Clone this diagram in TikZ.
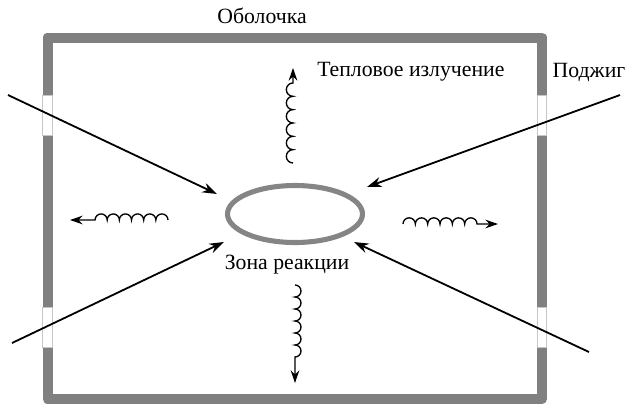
\documentclass[tikz,border=0pt]{standalone}
\usepackage{fontspec}
\setmainfont{Liberation Serif}
\usetikzlibrary{arrows.meta}
\definecolor{framegray}{HTML}{808080}
\definecolor{zonegray}{HTML}{858585}
\tikzset{
  shell/.style={draw=framegray, line width=7.5pt, line join=round},
  window/.style={draw=framegray!45, fill=white, line width=0.5pt, minimum width=7.2pt, minimum height=30pt, inner sep=0pt},
  zoneline/.style={draw=zonegray, line width=3.8pt},
  ray/.style={line width=1.35pt, -{Stealth[length=11pt,width=7.5pt]}},
  heat/.style={line width=1pt, -{Stealth[length=9.5pt,width=6.5pt]}},
  lbl/.style={font=\fontsize{16.3}{19}\selectfont, inner sep=0pt}
}
\begin{document}
\begin{tikzpicture}[x=0.75pt,y=-0.75pt]
\useasboundingbox (0,0) rectangle (636,405);
% shell
\draw[shell] (47.5,37.5) rectangle (542,399);
\node[window] (w1) at (47.5,115) {};
\node[window] (w2) at (47.5,327) {};
\node[window] (w3) at (542,115) {};
\node[window] (w4) at (542,327) {};
% reaction zone
\draw[zoneline] (295,214) ellipse [x radius=67.5, y radius=28.5];
\coordinate (zone) at (295,214);
% labels
\node[lbl] (shellL) at (262,16) {Оболочка};
\node[lbl, anchor=west] (heatL) at (317,72) {Тепловое излучение};
\node[lbl] (ign) at (589,72) {Поджиг};
\node[lbl] (zoneL) at (287,265) {Зона реакции};
% ignition rays
\coordinate (a1) at (8,95);   \coordinate (b1) at (217,194);
\coordinate (a2) at (12,343); \coordinate (b2) at (224,242);
\coordinate (a3) at (620,95); \coordinate (b3) at (367,187);
\coordinate (a4) at (589,352);\coordinate (b4) at (354,242);
\draw[ray] (a1) -- (b1);
\draw[ray] (a2) -- (b2);
\draw[ray] (a3) -- (b3);
\draw[ray] (a4) -- (b4);
% heat radiation (coils)
\coordinate (hl) at (168,220); \coordinate (hlt) at (70,220);
\draw[heat] (hl)
  arc[start angle=0,end angle=-180,radius=6.08]
  arc[start angle=0,end angle=-180,radius=6.08]
  arc[start angle=0,end angle=-180,radius=6.08]
  arc[start angle=0,end angle=-180,radius=6.08]
  arc[start angle=0,end angle=-180,radius=6.08]
  arc[start angle=0,end angle=-180,radius=6.08]
  -- (hlt);
\coordinate (hr) at (403,224); \coordinate (hrt) at (498,224);
\draw[heat] (hr)
  arc[start angle=180,end angle=360,radius=6.17]
  arc[start angle=180,end angle=360,radius=6.17]
  arc[start angle=180,end angle=360,radius=6.17]
  arc[start angle=180,end angle=360,radius=6.17]
  arc[start angle=180,end angle=360,radius=6.17]
  arc[start angle=180,end angle=360,radius=6.17]
  -- (hrt);
\coordinate (hu) at (293,163); \coordinate (hut) at (293,68);
\draw[heat] (hu)
  arc[start angle=90,end angle=270,radius=6.67]
  arc[start angle=90,end angle=270,radius=6.67]
  arc[start angle=90,end angle=270,radius=6.67]
  arc[start angle=90,end angle=270,radius=6.67]
  arc[start angle=90,end angle=270,radius=6.67]
  arc[start angle=90,end angle=270,radius=6.67]
  -- (hut);
\coordinate (hd) at (295,285); \coordinate (hdt) at (295,383);
\draw[heat] (hd)
  arc[start angle=-90,end angle=90,radius=6]
  arc[start angle=-90,end angle=90,radius=6]
  arc[start angle=-90,end angle=90,radius=6]
  arc[start angle=-90,end angle=90,radius=6]
  arc[start angle=-90,end angle=90,radius=6]
  arc[start angle=-90,end angle=90,radius=6]
  -- (hdt);
\end{tikzpicture}
\end{document}
